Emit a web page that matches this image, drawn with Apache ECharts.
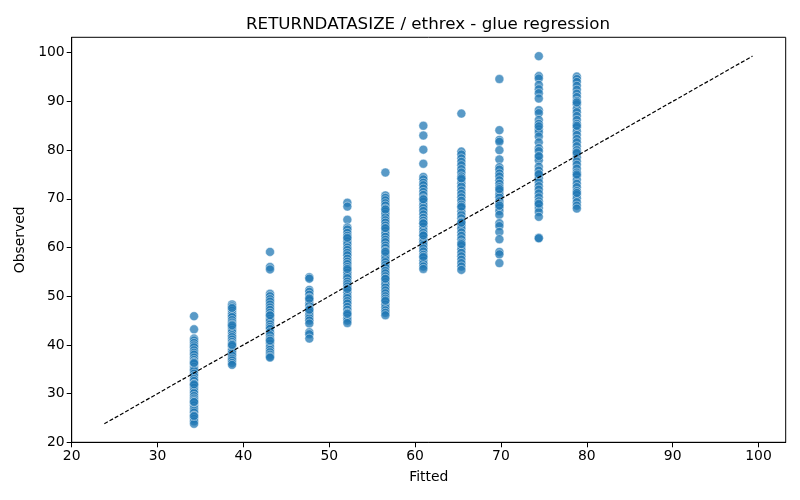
<!DOCTYPE html>
<html>
<head>
<meta charset="utf-8">
<script src="https://cdn.jsdelivr.net/npm/echarts@6/dist/echarts.min.js"></script>
<style>
  html, body { margin: 0; padding: 0; background: #fff; }
  #chart { width: 800px; height: 500px; }
</style>
</head>
<body>
<div id="chart"></div>
<script>
// fitted value of each column (x)
var fittedLevels = [34.25, 38.68, 43.10, 47.68, 52.11, 56.54, 60.96, 65.39, 69.82, 74.41, 78.84];

var obs1 = [45.9, 43.2, 41.3, 40.9, 40.4, 39.9, 39.5, 38.9, 38.4, 38.0, 37.4, 36.9, 36.5, 36.1, 35.5, 35.0, 34.7, 34.1, 33.6, 33.0, 32.6, 32.0, 31.7, 31.2, 30.6, 30.1, 29.5, 29.0, 28.6, 28.2, 27.6, 27.0, 26.5, 26.1, 25.5, 25.2, 24.8, 24.3, 23.8, 31.9, 28.3, 25.4, 36.3];
var obs2 = [48.3, 47.9, 47.4, 47.0, 46.5, 46.1, 45.7, 45.1, 44.6, 44.2, 43.6, 43.1, 42.6, 42.0, 41.6, 41.1, 40.6, 40.2, 39.7, 39.1, 38.7, 38.3, 37.8, 37.2, 36.8, 36.3, 35.9, 47.6, 44.0, 40.0];
var obs3 = [59.1, 56.0, 55.5, 50.5, 50.0, 49.4, 48.9, 48.3, 47.7, 47.2, 46.6, 46.0, 45.4, 44.9, 44.2, 43.7, 43.3, 42.6, 42.0, 41.3, 40.8, 40.3, 39.6, 39.0, 38.5, 38.0, 37.6, 37.4, 46.1, 40.9];
var obs4 = [53.9, 53.6, 51.3, 50.9, 50.3, 49.7, 49.2, 48.5, 48.0, 47.4, 46.7, 46.1, 45.5, 45.0, 44.4, 42.6, 42.2, 41.3, 49.5, 47.2];
var obs5 = [69.2, 68.4, 65.7, 64.1, 63.7, 63.0, 62.4, 61.8, 61.3, 60.7, 60.0, 59.5, 58.9, 58.4, 57.7, 57.1, 56.6, 56.0, 55.3, 54.8, 54.2, 53.7, 53.0, 52.5, 52.0, 51.3, 50.8, 50.1, 49.6, 49.0, 48.5, 47.8, 47.2, 46.6, 46.1, 45.5, 45.0, 44.5, 62.0, 55.6, 51.5, 46.4];
var obs6 = [75.4, 70.7, 70.2, 69.7, 69.1, 68.6, 68.0, 67.4, 66.9, 66.2, 65.6, 65.1, 64.5, 63.9, 63.4, 62.8, 62.2, 61.6, 61.1, 60.4, 59.9, 59.3, 58.7, 58.2, 57.6, 57.0, 56.4, 55.9, 55.2, 54.7, 54.1, 53.5, 52.9, 52.4, 51.8, 51.2, 50.6, 50.0, 49.5, 48.9, 48.3, 47.7, 47.1, 46.6, 46.1, 67.8, 64.0, 59.1, 53.6, 49.1];
var obs7 = [85.0, 83.0, 80.1, 77.2, 74.5, 74.0, 73.3, 72.8, 72.1, 71.4, 70.8, 70.1, 69.4, 68.7, 68.1, 67.5, 66.8, 66.1, 65.5, 64.9, 64.3, 63.6, 63.0, 62.4, 61.7, 61.1, 60.5, 59.8, 59.2, 58.5, 57.9, 57.3, 56.7, 56.1, 55.6, 69.9, 65.0, 62.5, 58.1];
var obs8 = [87.5, 79.7, 79.1, 78.3, 77.6, 76.9, 76.1, 75.4, 74.6, 73.9, 73.2, 72.5, 71.7, 71.0, 70.3, 69.6, 68.8, 68.2, 67.4, 66.7, 66.0, 65.3, 64.5, 63.9, 63.1, 62.4, 61.7, 61.0, 60.3, 59.6, 58.9, 58.2, 57.5, 56.8, 56.1, 55.4, 74.2, 68.4, 65.1, 60.7];
var obs9 = [94.6, 84.1, 82.1, 81.7, 80.0, 78.1, 76.5, 76.0, 75.2, 74.6, 73.8, 73.1, 72.4, 71.6, 70.9, 70.3, 69.5, 68.9, 68.2, 67.5, 66.7, 65.0, 64.4, 63.2, 61.7, 59.1, 58.6, 56.8, 72.0, 68.6];
var obs10 = [99.3, 95.2, 94.7, 93.4, 92.5, 91.7, 90.6, 88.2, 87.6, 86.2, 85.4, 84.3, 83.7, 82.8, 81.6, 80.4, 79.8, 78.6, 77.9, 76.6, 75.8, 74.9, 74.2, 73.4, 72.6, 71.9, 71.1, 70.3, 69.5, 68.8, 68.1, 67.3, 66.3, 62.0, 61.9, 84.9, 78.8, 75.1, 69.0];
var obs11 = [95.1, 94.6, 94.0, 93.2, 92.4, 91.6, 90.9, 90.1, 89.4, 88.5, 87.8, 87.0, 86.2, 85.4, 84.7, 83.9, 83.1, 82.3, 81.6, 80.8, 80.0, 79.3, 78.5, 77.7, 77.0, 76.2, 75.4, 74.7, 73.9, 73.1, 72.4, 71.6, 70.8, 70.1, 69.3, 68.6, 68.0, 89.8, 85.0, 79.5, 75.0, 71.2];

// identity line ends (y = x)
var diagEnds = [23.8, 99.3];

// tick labels
var tickValues = [20, 30, 40, 50, 60, 70, 80, 90, 100];

var observedCols = [obs1, obs2, obs3, obs4, obs5, obs6, obs7, obs8, obs9, obs10, obs11];
var points = [];
observedCols.forEach(function (col, i) {
  col.forEach(function (v) {
    points.push([fittedLevels[i], v]);
  });
});

var font = 'DejaVu Sans';

function axisOpt(name, gap) {
  return {
    type: 'value',
    name: name,
    nameLocation: 'middle',
    nameGap: gap,
    nameTextStyle: { fontFamily: font, fontSize: 13.9, color: '#000' },
    min: 20,
    max: 103.17,
    interval: 10,
    axisLine: { show: true, lineStyle: { color: '#000', width: 1 } },
    axisTick: { show: true, inside: false, length: 5, lineStyle: { color: '#000' }, customValues: tickValues },
    axisLabel: { fontFamily: font, fontSize: 13.9, color: '#000', margin: 7, customValues: tickValues },
    splitLine: { show: false }
  };
}

var option = {
  animation: false,
  backgroundColor: '#fff',
  title: {
    text: 'RETURNDATASIZE / ethrex - glue regression',
    // centred over the plot area, not the page
    left: 246,
    top: 16,
    padding: 0,
    textStyle: { fontFamily: font, fontSize: 16.7, fontWeight: 'normal', color: '#000' }
  },
  grid: {
    left: 71.7,
    right: 14.3,
    top: 37.3,
    bottom: 57.7,
    show: true,
    borderColor: '#000',
    borderWidth: 1
  },
  xAxis: axisOpt('Fitted', 28),
  yAxis: axisOpt('Observed', 39),
  series: [
    {
      type: 'scatter',
      data: points,
      symbolSize: 9,
      itemStyle: { color: '#1f77b4', opacity: 0.74, borderColor: '#fff', borderWidth: 0.6 }
    },
    {
      type: 'line',
      data: [[diagEnds[0], diagEnds[0]], [diagEnds[1], diagEnds[1]]],
      symbol: 'none',
      lineStyle: { color: '#000', width: 1.2, type: [4, 2] },
      z: 3
    }
  ]
};

var chart = echarts.init(document.getElementById('chart'));
chart.setOption(option);
</script>
</body>
</html>
